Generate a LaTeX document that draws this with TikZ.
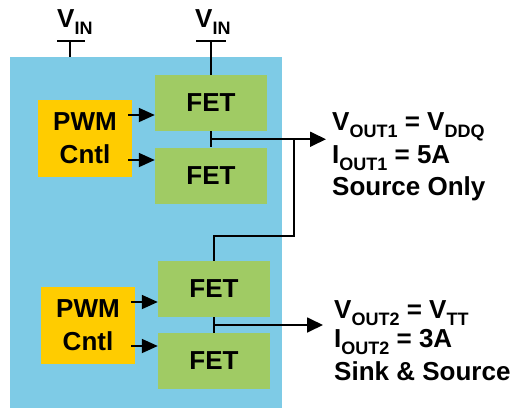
\documentclass[tikz,border=0pt]{standalone}
\usepackage{fontspec}
\setmainfont{Liberation Sans}
\usetikzlibrary{arrows.meta,positioning,calc}
\definecolor{chipblue}{RGB}{126,203,230}
\definecolor{fetgreen}{RGB}{160,203,100}
\definecolor{pwmgold}{RGB}{255,204,0}
\newcommand{\lo}[1]{\raisebox{-7pt}{\fontsize{18}{18}\selectfont #1}}

\begin{document}
\begin{tikzpicture}[x=1pt,y=-1pt,font=\fontsize{26}{33}\selectfont\bfseries,
  fet/.style={fill=fetgreen,minimum width=112pt,minimum height=56pt,inner sep=0pt},
  pwm/.style={fill=pwmgold,minimum width=94pt,minimum height=77pt,align=center,inner sep=0pt},
  wire/.style={line width=1.8pt},
  sig/.style={wire,-{Triangle[length=16pt,width=14pt]}},
  feed/.style={wire,-{Triangle[length=16pt,width=15pt]}},
  lbl/.style={anchor=base west,inner sep=0pt}]
\useasboundingbox (0,0) rectangle (512,408);
\node[fill=chipblue,minimum width=272pt,minimum height=351pt,inner sep=0pt] (chip) at (146,232.5) {};
\node[fet] (fetA) at (211,103) {FET};
\node[fet] (fetB) at (211,175.5) {FET};
\node[fet] (fetC) at (214,289) {FET};
\node[fet] (fetD) at (214,361) {FET};
\node[pwm] (pwmA) at (85,138.5) {PWM\\Cntl};
\node[pwm] (pwmB) at (88,325) {PWM\\Cntl};
\foreach \p/\f/\y in {pwmA/fetA/115,pwmA/fetB/160,pwmB/fetC/302,pwmB/fetD/346}{\draw[sig] ($(\p.east |- 0,\y)+(-4,0)$) -- (\f.west |- 0,\y);}
\node[lbl] (vinA) at (57,27) {V\lo{IN}};
\node[lbl] (vinB) at (195,27) {V\lo{IN}};
\coordinate (railA) at (70,41);
\coordinate (railB) at (fetA.north |- railA);
\draw[wire] ($(railA)+(-13,0)$) -- ($(railA)+(15,0)$);
\draw[wire] ($(railB)+(-15,0)$) -- ($(railB)+(15,0)$);
\draw[wire] (railA) -- (railA |- chip.north);
\draw[wire] (railB) -- (fetA.north);
\node[lbl] (voutA) at (332,130) {V\lo{OUT1} = V\lo{DDQ}};
\node[lbl] (ioutA) at (332,163) {I\lo{OUT1} = 5A};
\node[lbl] (modeA) at (332,195) {Source Only};
\node[lbl] (voutB) at (334,318) {V\lo{OUT2} = V\lo{TT}};
\node[lbl] (ioutB) at (334,347) {I\lo{OUT2} = 3A};
\node[lbl] (modeB) at (334,380) {Sink \& Source};
\coordinate (nodeA) at ($(fetA.south)!0.5!(fetB.north)$);
\coordinate (nodeB) at ($(fetC.south)!0.5!(fetD.north)$);
\draw[wire] (fetA.south) -- (fetB.north);
\draw[wire] (fetC.south) -- (fetD.north);
\draw[feed] (nodeA) -- ($(nodeA -| voutA.west)+(-6,0)$);
\draw[feed] (nodeB) -- ($(nodeB -| voutB.west)+(-11,0)$);
\coordinate (loop) at (294,236);
\draw[wire] (nodeA -| loop) -- (loop) -| (fetC.north);
\end{tikzpicture}
\end{document}
